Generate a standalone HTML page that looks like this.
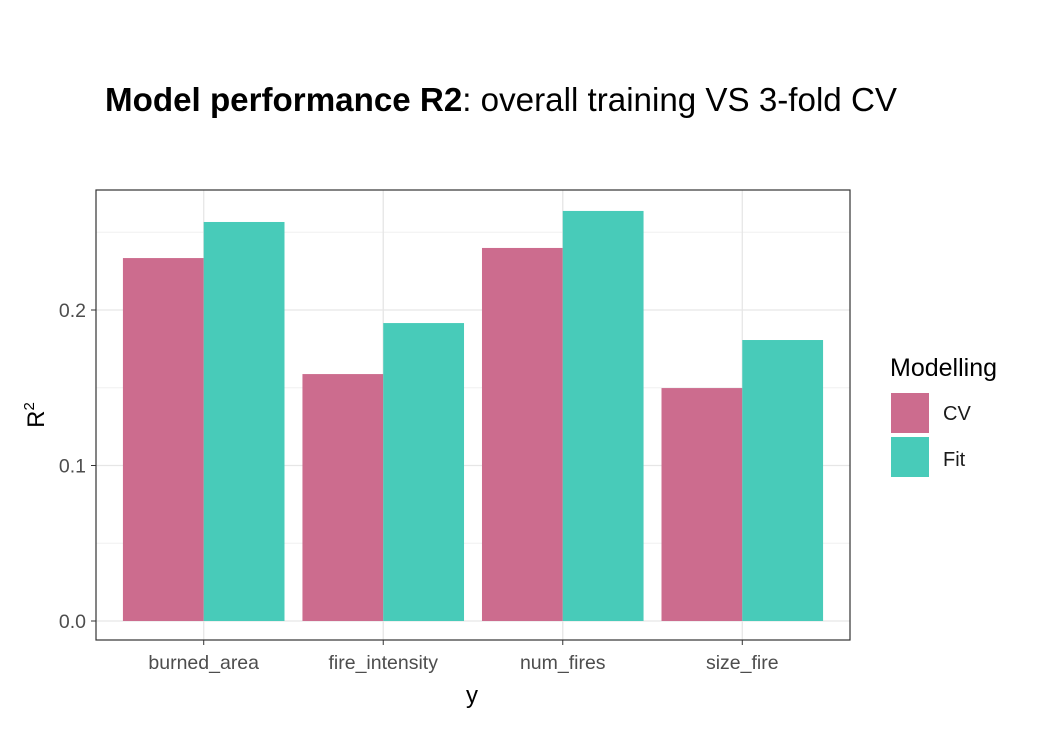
<!DOCTYPE html>
<html><head><meta charset="utf-8"><style>
body{margin:0;background:#fff;}
svg{display:block;font-family:"Liberation Sans",Arial,sans-serif;}
</style></head><body>
<svg id="chart" width="1054" height="754">
<text x="105" y="111" textLength="792" lengthAdjust="spacingAndGlyphs" font-size="33" fill="#000"><tspan font-weight="bold">Model performance R2</tspan>: overall training VS 3-fold CV</text>
<rect x="96" y="190" width="754" height="450" fill="#fff"/>
<g id="grid"></g>
<g id="bars"></g>
<rect x="96" y="190" width="754" height="450" fill="none" stroke="#333" stroke-width="1.2"/>
<g id="axes"></g>
<text x="472" y="703" font-size="24" text-anchor="middle" fill="#000">y</text>
<text transform="translate(44,415) rotate(-90)" font-size="24" text-anchor="middle" fill="#000">R<tspan font-size="15" dy="-10">2</tspan></text>
<g>
<text x="890" y="376" font-size="25" fill="#000">Modelling</text>
<rect x="891" y="393" width="38" height="40" fill="#CC6C8E"/>
<text x="943" y="420" font-size="20" fill="#1a1a1a">CV</text>
<rect x="891" y="437" width="38" height="40" fill="#48CBB9"/>
<text x="943" y="466" font-size="20" fill="#1a1a1a">Fit</text>
</g>
</svg>
<script>
const categories=["burned_area","fire_intensity","num_fires","size_fire"];
const cvValues=[0.2334,0.1588,0.2399,0.1498];
const fitValues=[0.2566,0.1916,0.2637,0.1807];
const yTicks=[0,0.1,0.2];
const yTickLabels=["0.0","0.1","0.2"];
const yMinor=[0.05,0.15,0.25];

const NS="http://www.w3.org/2000/svg";
const panelL=96,panelR=850,panelT=190,panelB=640;
const y0px=621,pxPerUnit=1555;
function yScale(v){return y0px-v*pxPerUnit;}
const unit=(panelR-panelL)/(categories.length-1+1.2);
function xScale(i){return panelL+(i+0.6)*unit;}
function mk(tag,attrs,parent){const e=document.createElementNS(NS,tag);for(const k in attrs)e.setAttribute(k,attrs[k]);parent.appendChild(e);return e;}
const grid=document.getElementById('grid'),bars=document.getElementById('bars'),axes=document.getElementById('axes');
yMinor.forEach(v=>{const l=mk('line',{x1:panelL,x2:panelR,y1:yScale(v),y2:yScale(v),stroke:'#f0f0f0','stroke-width':1},grid);

});
yTicks.forEach((v,i)=>{const l=mk('line',{x1:panelL,x2:panelR,y1:yScale(v),y2:yScale(v),stroke:'#e6e6e6','stroke-width':1.3},grid);


const tk=mk('line',{x1:panelL-5,x2:panelL,y1:yScale(v),y2:yScale(v),stroke:'#333'},axes);


const t=mk('text',{x:panelL-10,y:yScale(v)+7,'font-size':19.5,'text-anchor':'end',fill:'#4d4d4d'},axes);t.textContent=yTickLabels[i];

});
const bw=unit*0.45;
categories.forEach((c,i)=>{const cx=xScale(i);
const g=mk('line',{x1:cx,x2:cx,y1:panelT,y2:panelB,stroke:'#e6e6e6','stroke-width':1.3},grid);


const b1=mk('rect',{x:cx-bw,y:yScale(cvValues[i]),width:bw,height:yScale(0)-yScale(cvValues[i]),fill:'#CC6C8E'},bars);


const b2=mk('rect',{x:cx,y:yScale(fitValues[i]),width:bw,height:yScale(0)-yScale(fitValues[i]),fill:'#48CBB9'},bars);


const tk=mk('line',{x1:cx,x2:cx,y1:panelB,y2:panelB+5,stroke:'#333'},axes);


const t=mk('text',{x:cx,y:panelB+29,'font-size':19.5,'text-anchor':'middle',fill:'#4d4d4d'},axes);t.textContent=c;

});
</script>
</body></html>
